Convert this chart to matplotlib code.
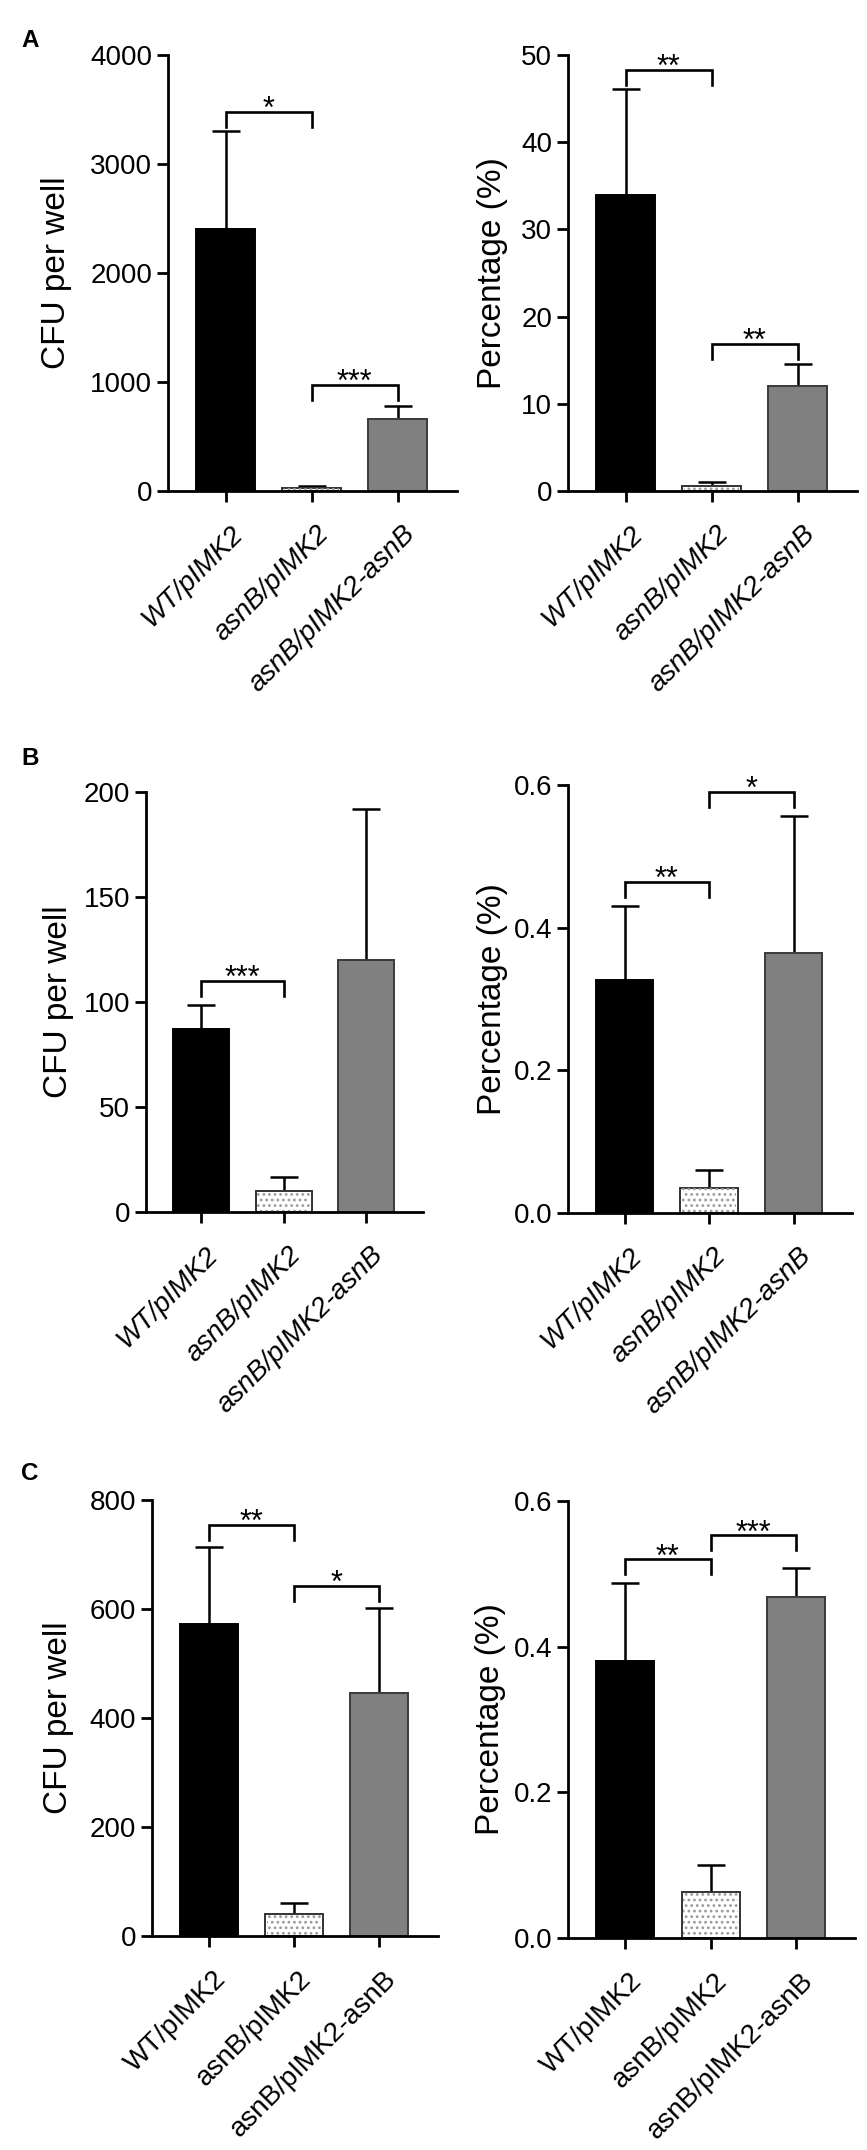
import numpy as np
import matplotlib
matplotlib.use("Agg")
import matplotlib.pyplot as plt
from matplotlib.transforms import ScaledTranslation

# =====================================================
# DATA
# =====================================================

GROUPS = ["WT/pIMK2", "asnB/pIMK2", "asnB/pIMK2-asnB"]

A_CFU_MEAN = [2400, 30, 665]
A_CFU_SD = [900, 20, 115]
A_PCT_MEAN = [34.0, 0.6, 12.0]
A_PCT_SD = [12.1, 0.4, 2.6]

B_CFU_MEAN = [87, 10, 120]
B_CFU_SD = [11.5, 6.5, 72]
B_PCT_MEAN = [0.327, 0.035, 0.364]
B_PCT_SD = [0.103, 0.025, 0.193]

C_CFU_MEAN = [572, 40, 445]
C_CFU_SD = [141, 21, 156]
C_PCT_MEAN = [0.381, 0.063, 0.468]
C_PCT_SD = [0.107, 0.037, 0.040]

# significance brackets: (left group, right group, bracket height, label)
A_CFU_SIG = [(0, 1, 3480, "*"), (1, 2, 972, "***")]
A_PCT_SIG = [(0, 1, 48.3, "**"), (1, 2, 16.9, "**")]
B_CFU_SIG = [(0, 1, 110, "***")]
B_PCT_SIG = [(0, 1, 0.464, "**"), (1, 2, 0.590, "*")]
C_CFU_SIG = [(0, 1, 754, "**"), (1, 2, 642, "*")]
C_PCT_SIG = [(0, 1, 0.520, "**"), (1, 2, 0.553, "***")]

CFU_TICKS_A = [0, 1000, 2000, 3000, 4000]
PCT_TICKS_A = [0, 10, 20, 30, 40, 50]
CFU_TICKS_B = [0, 50, 100, 150, 200]
PCT_TICKS_B = ["0.0", "0.2", "0.4", "0.6"]
CFU_TICKS_C = [0, 200, 400, 600, 800]
PCT_TICKS_C = ["0.0", "0.2", "0.4", "0.6"]

# =====================================================
# LAYOUT (pixels in an 867x2150 canvas)
# =====================================================

FIG_W, FIG_H, DPI = 867, 2150, 100

# left, top, right, bottom of each plotting area
BOXES = [
    (168, 55, 457, 491), (568, 55, 857, 491),
    (146, 792, 423, 1212), (568, 785, 852, 1213),
    (152, 1500, 438, 1936), (568, 1501, 855, 1938),
]
# right edge of the y label
YLABEL_X = [72, 508, 74, 508, 74, 506]
# panel letter, left, baseline
LETTERS = [("A", 21, 47), ("B", 21, 765), ("C", 21, 1480)]

XLIM = (-0.67, 2.69)
BAR_W = 0.68
CAP_PX = 14
LEG_PX = 15

FILLS = ["black", "white", "#808080"]
EDGES = ["black", "#333333", "#3a3a3a"]

plt.rcParams["font.family"] = ["Liberation Sans", "DejaVu Sans"]
plt.rcParams["hatch.linewidth"] = 1.2


def draw_panel(ax, box, lab_x, means, sds, ticks, ylabel, sigs, italic):
    x = np.arange(len(GROUPS))
    means = np.array(means, dtype=float)
    tops = means + np.array(sds, dtype=float)
    yvals = [float(t) for t in ticks]
    ymax = yvals[-1]
    w_px = box[2] - box[0]
    h_px = box[3] - box[1]
    cap = CAP_PX * (XLIM[1] - XLIM[0]) / w_px

    # error bars (upper only)
    ax.vlines(x, means, tops, color="black", lw=1.8, zorder=1)
    ax.hlines(tops, x - cap, x + cap, color="black", lw=1.8, zorder=1)

    ax.bar(x, means, width=BAR_W, color=FILLS, edgecolor=EDGES,
           linewidth=1.4, zorder=2)
    # dotted fill of the mutant bar
    ax.bar(x[1], means[1], width=BAR_W * 0.94, color="none",
           edgecolor="#9a9a9a", hatch="...", linewidth=0, zorder=2.1)

    ax.set_xlim(*XLIM)
    ax.set_ylim(0, ymax)

    # significance brackets
    leg = LEG_PX * ymax / h_px
    for i, j, y, txt in sigs:
        ax.plot([i, i, j, j], [y - leg, y, y, y - leg], color="black",
                lw=1.9, clip_on=False, solid_joinstyle="miter")
        ax.annotate(txt, xy=((i + j) / 2, y), xytext=(0, -4.5),
                    textcoords="offset points", ha="center", va="baseline",
                    fontsize=22, annotation_clip=False)

    for s in ["top", "right"]:
        ax.spines[s].set_visible(False)
    for s in ["left", "bottom"]:
        ax.spines[s].set_linewidth(2.0)

    ax.set_yticks(yvals)
    ax.set_yticklabels([str(t) for t in ticks])
    ax.set_xticks(x)
    ax.set_xticklabels(GROUPS, rotation=45, ha="right", va="center",
                       rotation_mode="anchor",
                       style="italic" if italic else "normal")
    ax.tick_params(axis="both", length=8, width=2, direction="out")
    ax.tick_params(axis="y", labelsize=20, pad=3.5)
    ax.tick_params(axis="x", labelsize=20, pad=20)
    shift = ScaledTranslation(13 / DPI, 0, ax.figure.dpi_scale_trans)
    for lab in ax.get_xticklabels():
        lab.set_transform(lab.get_transform() + shift)

    ax.set_ylabel(ylabel, fontsize=24)
    ax.yaxis.set_label_coords((lab_x - box[0]) / w_px, 0.5)


fig = plt.figure(figsize=(FIG_W / DPI, FIG_H / DPI), dpi=DPI)

panels = [
    (A_CFU_MEAN, A_CFU_SD, CFU_TICKS_A, "CFU per well", A_CFU_SIG, True),
    (A_PCT_MEAN, A_PCT_SD, PCT_TICKS_A, "Percentage (%)", A_PCT_SIG, True),
    (B_CFU_MEAN, B_CFU_SD, CFU_TICKS_B, "CFU per well", B_CFU_SIG, True),
    (B_PCT_MEAN, B_PCT_SD, PCT_TICKS_B, "Percentage (%)", B_PCT_SIG, True),
    (C_CFU_MEAN, C_CFU_SD, CFU_TICKS_C, "CFU per well", C_CFU_SIG, False),
    (C_PCT_MEAN, C_PCT_SD, PCT_TICKS_C, "Percentage (%)", C_PCT_SIG, False),
]

for box, lab_x, p in zip(BOXES, YLABEL_X, panels):
    l, t, r, b = box
    ax = fig.add_axes([l / FIG_W, 1 - b / FIG_H, (r - l) / FIG_W, (b - t) / FIG_H])
    draw_panel(ax, box, lab_x, *p)

for letter, lx, ly in LETTERS:
    fig.text(lx / FIG_W, 1 - ly / FIG_H, letter, ha="left", va="baseline",
             fontsize=17.5, fontweight="bold")

fig.savefig("out.png", dpi=DPI, facecolor="white")
